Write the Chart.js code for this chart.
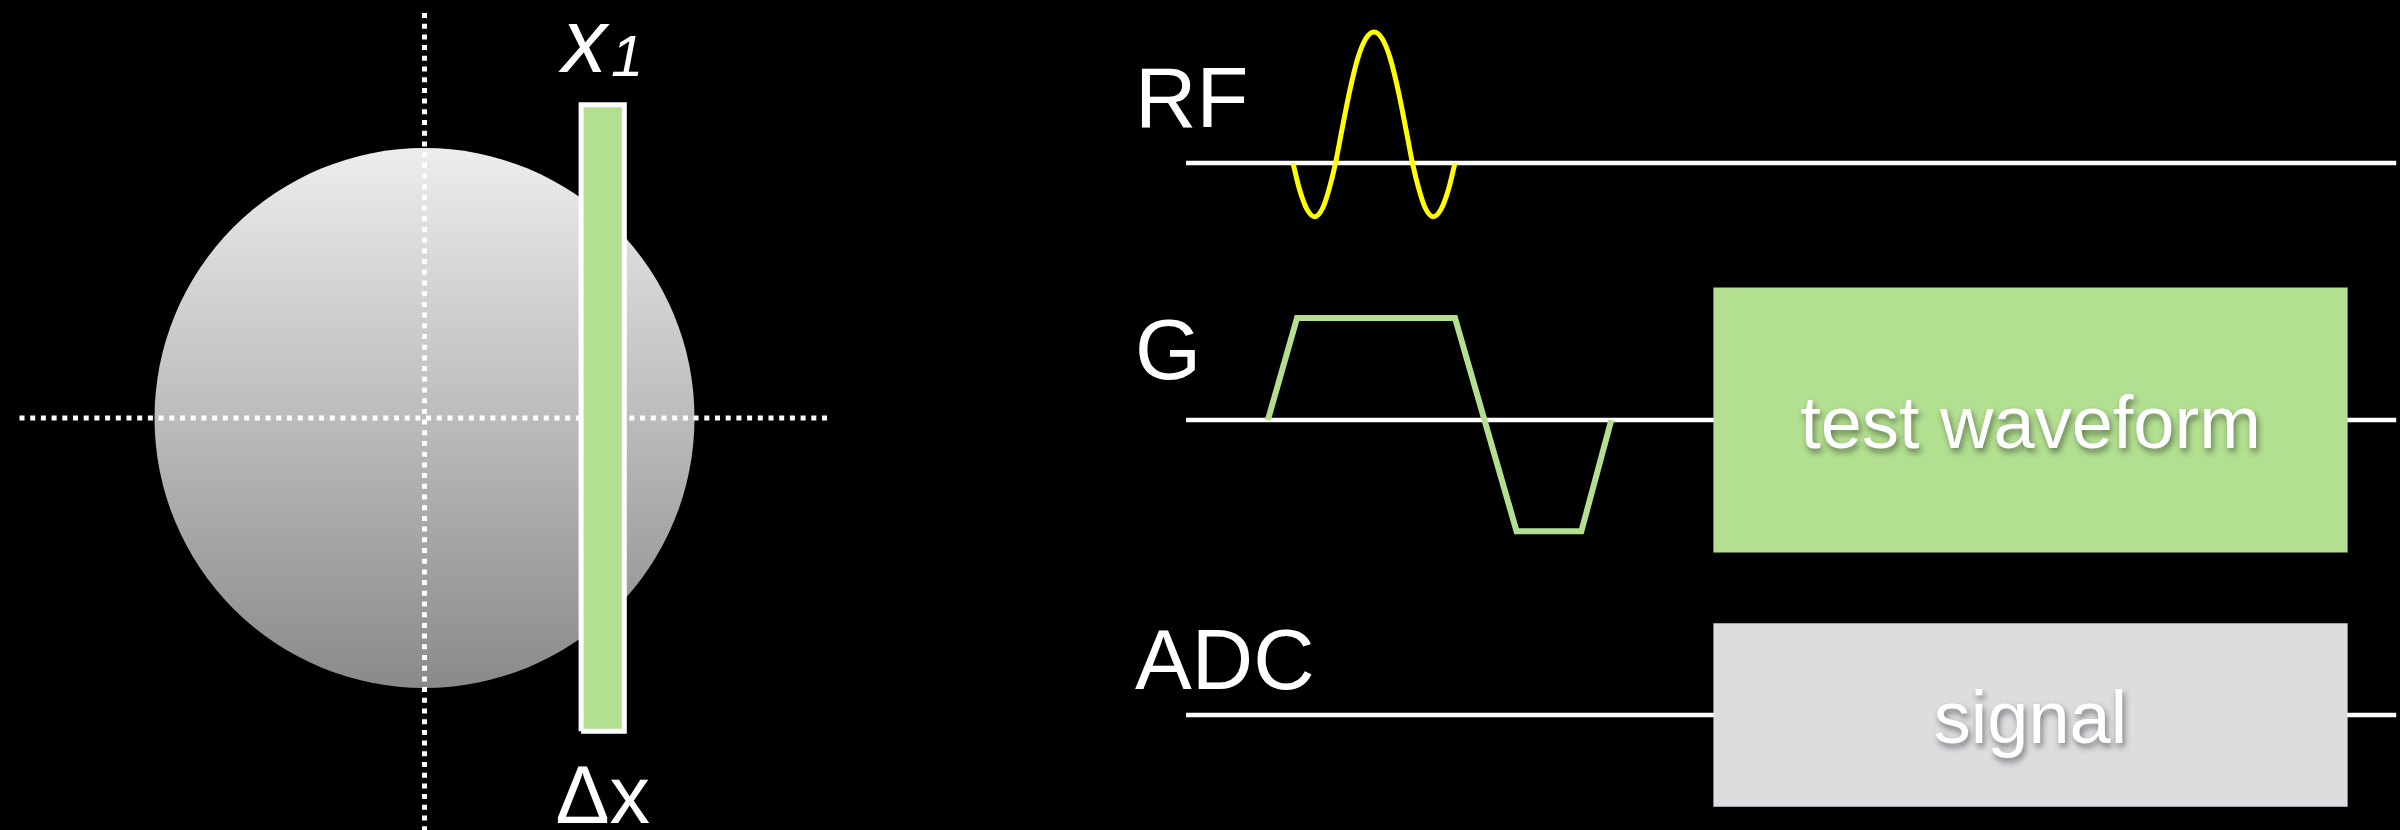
<!DOCTYPE html>
<html>
<head>
<meta charset="utf-8">
<title>Slice selection test</title>
<script src="https://cdn.jsdelivr.net/npm/chart.js@4.4.1/dist/chart.umd.min.js"></script>
<style>
  html, body { margin: 0; padding: 0; background: #000; }
  #wrap { position: relative; width: 2400px; height: 830px; }
</style>
</head>
<body>
<div id="wrap"><canvas id="seqChart"></canvas></div>
<script>
// ---- data ----
// phantom + slice, in cm
const phantomRadius = 10;
const crossExtent = [-15, 15];
const crossVertical = [15, -15.4];
const sliceX1 = 6.6;
const sliceWidth = 1.6;
const sliceHalfHeight = 11.6;

// sequence, time in ms, amplitudes normalised
const seqSpan = [-1.32, 13.62];
const rfTime = [0, 0.08, 0.17, 0.27, 0.37, 0.45, 0.525, 0.6, 0.7, 0.8, 0.9, 1.0, 1.1, 1.2, 1.3, 1.4, 1.475, 1.55, 1.63, 1.73, 1.83, 1.92, 2.0];
const rfAmp = [0, -0.2, -0.35, -0.41, -0.34, -0.19, 0, 0.24, 0.55, 0.8, 0.95, 1.0, 0.95, 0.8, 0.55, 0.24, 0, -0.19, -0.34, -0.41, -0.35, -0.2, 0];
const gTime = [-0.31, 0.05, 2.0, 2.76, 3.56, 3.93];
const gAmp = [0, 1, 1, -1.09, -1.09, 0];
const blockSpan = [5.19, 13.02];
const testBlockAmp = [-1.3, 1.3];
const adcBlockAmp = [-0.9, 0.9];

const channelLabels = ['RF', 'G', 'ADC'];
const blockLabels = ['test waveform', 'signal'];

// ---- layout (pixels) ----
const W = 2400, H = 830;
const FONT = '"Liberation Sans", Arial, sans-serif';
const GREEN = '#b3df91';
const labelTime = -1.95;
const labelLift = [0.275, 0.4, 0.255];

// axis that puts value 0 at originPx with pxPerUnit scale
function xRange(originPx, ppu) { return { min: -originPx / ppu, max: (W - originPx) / ppu }; }
function yRange(originPx, ppu) { return { min: -(H - originPx) / ppu, max: originPx / ppu }; }

function pts(xs, ys) { return xs.map((x, i) => ({ x: x, y: ys[i] })); }
function rect(x0, x1, y0, y1) {
  return [{ x: x0, y: y0 }, { x: x1, y: y0 }, { x: x1, y: y1 }, { x: x0, y: y1 }, { x: x0, y: y0 }];
}

const sliceLeft = sliceX1 - sliceWidth / 2;
const sliceRight = sliceX1 + sliceWidth / 2;

const hidden = (range, axis) => Object.assign({ type: 'linear', display: false, axis: axis }, range);

const textPlugin = {
  id: 'diagramText',
  afterDatasetsDraw(chart) {
    const { ctx, scales } = chart;
    const t = scales.x;
    ctx.save();
    ctx.fillStyle = '#fff';
    ctx.textBaseline = 'alphabetic';

    // channel names
    ctx.textAlign = 'left';
    ctx.font = '85px ' + FONT;
    ['yRF', 'yG', 'yADC'].forEach((id, i) => {
      ctx.fillText(channelLabels[i], t.getPixelForValue(labelTime), scales[id].getPixelForValue(labelLift[i]));
    });

    // block labels with drop shadow
    ctx.textAlign = 'center';
    ctx.font = '74px ' + FONT;
    ctx.shadowColor = 'rgba(0,0,0,0.45)';
    ctx.shadowOffsetX = 2;
    ctx.shadowOffsetY = 4;
    ctx.shadowBlur = 6;
    const cx = t.getPixelForValue((blockSpan[0] + blockSpan[1]) / 2);
    const gy = scales.yG.getPixelForValue((testBlockAmp[0] + testBlockAmp[1]) / 2);
    const ay = scales.yADC.getPixelForValue((adcBlockAmp[0] + adcBlockAmp[1]) / 2);
    ctx.fillText(blockLabels[0], cx, gy + 28);
    ctx.fillText(blockLabels[1], cx, ay + 28);
    ctx.shadowColor = 'transparent';

    // slice labels
    const sx = scales.xp.getPixelForValue(sliceX1);
    ctx.textAlign = 'left';
    ctx.font = 'italic 90px ' + FONT;
    const wx = ctx.measureText('x').width;
    ctx.font = 'italic 58px ' + FONT;
    const w1 = ctx.measureText('1').width;
    const start = sx - (wx + 4 + w1) / 2;
    const topY = scales.yp.getPixelForValue(sliceHalfHeight + 1.2);
    ctx.font = 'italic 90px ' + FONT;
    ctx.fillText('x', start, topY);
    ctx.font = 'italic 58px ' + FONT;
    ctx.fillText('1', start + wx + 4, topY + 4);

    ctx.textAlign = 'center';
    ctx.font = '81px ' + FONT;
    ctx.fillText('\u0394x', sx, scales.yp.getPixelForValue(-(sliceHalfHeight + 3.4)));
    ctx.restore();
  }
};

const ctx = document.getElementById('seqChart');
new Chart(ctx, {
  type: 'scatter',
  data: {
    datasets: [
      // phantom
      {
        order: 10, xAxisID: 'xp', yAxisID: 'yp', showLine: false,
        data: [{ x: 0, y: 0 }],
        pointBorderWidth: 0,
        pointRadius(c) {
          const s = c.chart.scales.xp;
          const r = s ? s.getPixelForValue(phantomRadius) - s.getPixelForValue(0) : 0;
          return isFinite(r) ? r : 0;
        },
        pointBackgroundColor(c) {
          const ch = c.chart;
          const y = ch.scales.yp;
          const top = y ? y.getPixelForValue(phantomRadius) : NaN;
          const bottom = y ? y.getPixelForValue(-phantomRadius) : NaN;
          if (!isFinite(top) || !isFinite(bottom)) return '#bbb';
          const g = ch.ctx.createLinearGradient(0, top, 0, bottom);
          g.addColorStop(0, '#ededed');
          g.addColorStop(1, '#8a8a8a');
          return g;
        }
      },
      // dotted cross
      {
        order: 9, xAxisID: 'xp', yAxisID: 'yp', showLine: true,
        data: [{ x: crossExtent[0], y: 0 }, { x: crossExtent[1], y: 0 }],
        borderColor: '#fff', borderWidth: 5, borderDash: [5, 5.7], borderCapStyle: 'butt'
      },
      {
        order: 9, xAxisID: 'xp', yAxisID: 'yp', showLine: true,
        data: [{ x: 0, y: crossVertical[0] }, { x: 0, y: crossVertical[1] }],
        borderColor: '#fff', borderWidth: 5, borderDash: [5, 5.7], borderCapStyle: 'butt'
      },
      // slice slab
      {
        order: 8, xAxisID: 'xp', yAxisID: 'yp', showLine: true,
        data: rect(sliceLeft, sliceRight, -sliceHalfHeight, sliceHalfHeight),
        borderColor: '#fff', borderWidth: 5, borderJoinStyle: 'miter',
        backgroundColor: GREEN, fill: 'shape'
      },
      // channel baselines
      {
        order: 7, xAxisID: 'x', yAxisID: 'yRF', showLine: true,
        data: [{ x: seqSpan[0], y: 0 }, { x: seqSpan[1], y: 0 }],
        borderColor: '#fff', borderWidth: 4.5
      },
      {
        order: 7, xAxisID: 'x', yAxisID: 'yG', showLine: true,
        data: [{ x: seqSpan[0], y: 0 }, { x: seqSpan[1], y: 0 }],
        borderColor: '#fff', borderWidth: 4.5
      },
      {
        order: 7, xAxisID: 'x', yAxisID: 'yADC', showLine: true,
        data: [{ x: seqSpan[0], y: 0 }, { x: seqSpan[1], y: 0 }],
        borderColor: '#fff', borderWidth: 4.5
      },
      // RF pulse
      {
        order: 6, xAxisID: 'x', yAxisID: 'yRF', showLine: true,
        data: pts(rfTime, rfAmp),
        borderColor: '#ffff00', borderWidth: 5, cubicInterpolationMode: 'monotone'
      },
      // slice gradient
      {
        order: 6, xAxisID: 'x', yAxisID: 'yG', showLine: true,
        data: pts(gTime, gAmp),
        borderColor: GREEN, borderWidth: 6, borderJoinStyle: 'miter'
      },
      // test waveform block
      {
        order: 5, xAxisID: 'x', yAxisID: 'yG', showLine: true,
        data: rect(blockSpan[0], blockSpan[1], testBlockAmp[0], testBlockAmp[1]),
        borderWidth: 0, borderColor: 'transparent', backgroundColor: GREEN, fill: 'shape'
      },
      // ADC block
      {
        order: 5, xAxisID: 'x', yAxisID: 'yADC', showLine: true,
        data: rect(blockSpan[0], blockSpan[1], adcBlockAmp[0], adcBlockAmp[1]),
        borderWidth: 0, borderColor: 'transparent', backgroundColor: '#dcdddf', fill: 'shape'
      }
    ]
  },
  options: {
    responsive: true,
    maintainAspectRatio: false,
    devicePixelRatio: 1,
    animation: false,
    events: [],
    layout: { padding: 0 },
    elements: { point: { radius: 0, hoverRadius: 0 }, line: { tension: 0 } },
    plugins: { legend: { display: false }, tooltip: { enabled: false }, title: { display: false } },
    scales: {
      x: hidden(xRange(1293, 81), 'x'),
      xp: hidden(xRange(424.5, 27), 'x'),
      yp: hidden(yRange(418, 27), 'y'),
      yRF: hidden(yRange(163, 131), 'y'),
      yG: hidden(yRange(420, 102), 'y'),
      yADC: hidden(yRange(715, 102), 'y')
    }
  },
  plugins: [textPlugin]
});
</script>
</body>
</html>
